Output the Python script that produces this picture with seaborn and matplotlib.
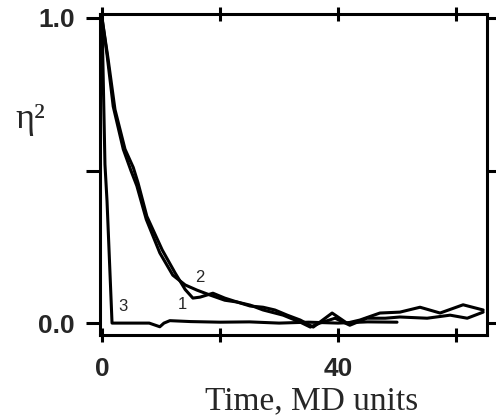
import numpy as np
import pandas as pd
import matplotlib
matplotlib.use("Agg")
import matplotlib.pyplot as plt
import seaborn as sns

# curve 1 / 2: slow decays, curve 3: fast drop then flat
t_a = [0, 1.0, 2.2, 3.9, 5.3, 6.1, 7.6, 10.2, 12.4, 14.1, 15.4, 16.6, 18.8, 20.8, 22.9,
       25.1, 27.3, 29.3, 31.4, 33.6, 35.8, 39.0, 41.5, 43.7, 47.1, 50.5, 53.9, 57.3, 61.2, 64.6]
y_a = [1.0, 0.87, 0.70, 0.57, 0.51, 0.46, 0.35, 0.24, 0.164, 0.11, 0.082, 0.085, 0.098, 0.082, 0.069,
       0.056, 0.052, 0.043, 0.026, 0.01, -0.013, 0.033, 0.0, 0.01, 0.033, 0.036, 0.052, 0.033, 0.06, 0.043]

t_b = [0, 0.85, 1.9, 3.6, 4.9, 5.9, 7.5, 9.8, 12.0, 14.1, 16.1, 18.3, 20.8, 22.9, 25.1,
       27.3, 30.7, 33.6, 35.3, 36.9, 39.5, 42.0, 44.9, 48.0, 50.5, 55.1, 59.0, 61.9, 64.6]
y_b = [1.0, 0.88, 0.71, 0.57, 0.50, 0.45, 0.34, 0.23, 0.157, 0.125, 0.108, 0.092, 0.075, 0.069, 0.059,
       0.043, 0.026, 0.003, -0.013, 0.0, 0.016, -0.007, 0.016, 0.016, 0.02, 0.016, 0.026, 0.016, 0.036]

t_c = [0, 0.5, 0.85, 1.7, 2.5, 5, 8, 9.8, 10.5, 11.5, 15, 20, 25, 30, 35, 40, 45, 50]
y_c = [1.0, 0.52, 0.40, 0.0, 0.0, 0.0, 0.0, -0.012, 0.0, 0.008, 0.005, 0.003, 0.004, 0.0, 0.003, 0.0, 0.004, 0.003]

curve_labels = ["3", "1", "2"]
label_t = [3.6, 13.6, 16.6]
label_y = [0.03, 0.035, 0.125]

sns.set_style("ticks")

fig = plt.figure(figsize=(4.96, 4.19), dpi=100)
ax = fig.add_axes([100 / 496, (419 - 335) / 419, 387 / 496, 321 / 419])

for t, y in [(t_a, y_a), (t_b, y_b), (t_c, y_c)]:
    df = pd.DataFrame({"t": t, "y": y})
    sns.lineplot(data=df, x="t", y="y", ax=ax, color="black", lw=2.2,
                 estimator=None, sort=False)

for s, tx, ty in zip(curve_labels, label_t, label_y):
    ax.text(tx, ty, s, fontsize=12, family="Liberation Sans", ha="center", va="bottom")

ax.set_xlim(-0.34, 65.25)
ax.set_ylim(-0.039, 1.013)

for sp in ax.spines.values():
    sp.set_linewidth(2.2)
    sp.set_color("black")

ax.set_xticks([0, 20, 40, 60])
ax.set_xticklabels(["0", "", "40", ""])
ax.set_yticks([0.0, 0.5, 1.0])
ax.set_yticklabels(["0.0", "", "1.0"])
ax.tick_params(axis="both", direction="out", length=10, width=2.2, color="black",
               labelsize=19, top=True, right=True)
ax.tick_params(axis="x", pad=11)
ax.tick_params(axis="y", pad=8)
ax.tick_params(axis="x", top=True, direction="inout")
for lab in ax.get_xticklabels() + ax.get_yticklabels():
    lab.set_fontweight("bold")
    lab.set_family("Liberation Sans")

ax.set_xlabel("Time, MD units", family="Liberation Serif", fontsize=24, va="baseline")
ax.xaxis.set_label_coords(0.548, -0.232)
ax.set_ylabel("η²", family="Liberation Serif", fontsize=26, rotation=0, ha="center", va="center")
ax.yaxis.set_label_coords(-0.18, 0.67)

fig.savefig("out.png", dpi=100)
